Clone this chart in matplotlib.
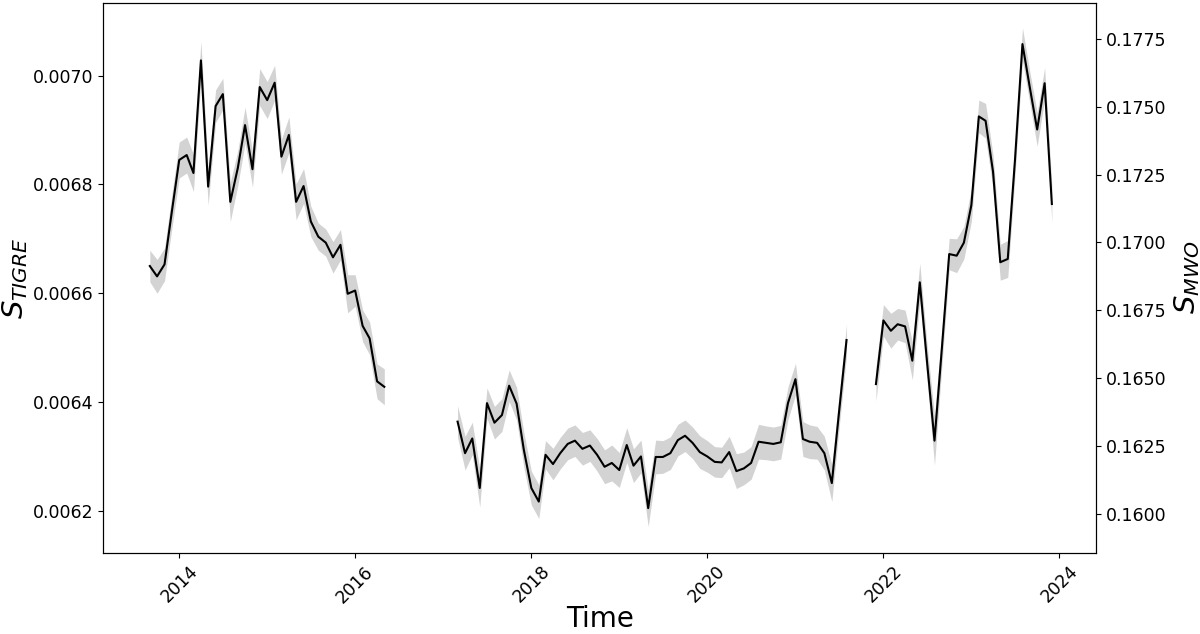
import numpy as np
import pandas as pd
import matplotlib
matplotlib.use("Agg")
import matplotlib.pyplot as plt
import matplotlib.dates as mdates
from matplotlib.ticker import MultipleLocator, FormatStrFormatter

# monthly S-index values (TIGRE scale), three observing seasons blocks
seg1_start = "2013-09-01"
seg1_s = [0.006650, 0.006631, 0.006653, 0.006749, 0.006845, 0.006854, 0.006821,
          0.007028, 0.006796, 0.006944, 0.006966, 0.006768, 0.006830, 0.006909,
          0.006828, 0.006979, 0.006955, 0.006987, 0.006851, 0.006891, 0.006768,
          0.006797, 0.006732, 0.006704, 0.006693, 0.006666, 0.006689, 0.006599,
          0.006605, 0.006540, 0.006517, 0.006438, 0.006428]
seg1_err = [2.9, 3.1, 3.0, 3.1, 3.3, 3.3, 3.4, 3.5, 3.4, 3.0, 2.9, 3.6, 3.2, 3.3,
            3.3, 3.4, 3.4, 3.2, 3.2, 3.3, 3.3, 3.2, 2.8, 2.5, 2.5, 2.9, 2.8, 3.5,
            2.9, 2.9, 3.0, 3.2, 3.3]

seg2_start = "2017-03-01"
seg2_s = [0.006364, 0.006306, 0.006333, 0.006242, 0.006398, 0.006362, 0.006376,
          0.006430, 0.006397, 0.006312, 0.006242, 0.006217, 0.006303, 0.006286,
          0.006306, 0.006323, 0.006329, 0.006314, 0.006320, 0.006303, 0.006281,
          0.006288, 0.006275, 0.006321, 0.006283, 0.006300, 0.006205, 0.006299,
          0.006299, 0.006306, 0.006330, 0.006338, 0.006325, 0.006308, 0.006300,
          0.006290, 0.006289, 0.006308, 0.006273, 0.006278, 0.006288, 0.006327,
          0.006325, 0.006323, 0.006326, 0.006398, 0.006442, 0.006332, 0.006327,
          0.006325, 0.006306, 0.006251, 0.006382, 0.006514]
seg2_err = [2.9, 3.1, 3.0, 3.5, 2.8, 3.0, 3.0, 2.9, 3.0, 3.2, 3.1, 3.1, 2.6, 2.9,
            2.9, 2.9, 2.9, 3.0, 2.9, 3.0, 3.1, 3.3, 3.2, 3.2, 3.1, 3.0, 3.4, 3.1,
            3.0, 3.0, 2.9, 2.9, 2.9, 3.0, 2.9, 2.8, 2.8, 2.9, 3.2, 3.0, 3.0, 3.2,
            3.1, 3.1, 3.1, 3.0, 2.9, 3.2, 3.1, 3.0, 3.1, 3.4, 3.0, 2.9]

seg3_start = "2021-12-01"
seg3_s = [0.006433, 0.006550, 0.006531, 0.006543, 0.006539, 0.006476, 0.006620,
          0.006474, 0.006329, 0.006501, 0.006672, 0.006669, 0.006693, 0.006762,
          0.006925, 0.006917, 0.006823, 0.006657, 0.006663, 0.006845, 0.007058,
          0.006977, 0.006901, 0.006986, 0.006764]
seg3_err = [3.1, 2.9, 3.2, 2.9, 3.0, 3.5, 3.5, 3.3, 4.5, 3.3, 2.9, 3.1, 3.0, 3.0,
            3.0, 3.2, 3.1, 3.3, 3.4, 3.0, 3.0, 2.9, 3.1, 2.9, 3.4]

# S_MWO = 0.0360 + 20.02 * S_TIGRE
mwo_a = 0.0360
mwo_b = 20.02

fig = plt.figure(figsize=(12, 6.34), dpi=100)
ax = fig.add_axes([0.0861, 0.1282, 0.8272, 0.8675])

for start, s, err in [(seg1_start, seg1_s, seg1_err),
                      (seg2_start, seg2_s, seg2_err),
                      (seg3_start, seg3_s, seg3_err)]:
    s = np.array(s)
    e = np.array(err) * 1e-5
    t = pd.date_range(start, periods=len(s), freq="MS")
    ax.fill_between(t, s - e, s + e, color="#d3d3d3", lw=0)
    ax.plot(t, s, color="black", lw=1.5)

ax.set_xlim(pd.Timestamp("2013-02-20"), pd.Timestamp("2024-06-01"))
ax.set_ylim(0.006123, 0.007134)
ax.xaxis.set_major_locator(mdates.YearLocator(2))
ax.xaxis.set_major_formatter(mdates.DateFormatter("%Y"))
ax.yaxis.set_major_locator(MultipleLocator(0.0002))
ax.yaxis.set_major_formatter(FormatStrFormatter("%.4f"))
ax.tick_params(labelsize=12.5)
plt.setp(ax.get_xticklabels(), rotation=45)
ax.set_xlabel("Time", fontsize=20, labelpad=-1)
ax.set_ylabel("$S_{TIGRE}$", fontsize=21, labelpad=2)

ax2 = ax.twinx()
lo, hi = ax.get_ylim()
ax2.set_ylim(mwo_a + mwo_b * lo, mwo_a + mwo_b * hi)
ax2.yaxis.set_major_locator(MultipleLocator(0.0025))
ax2.yaxis.set_major_formatter(FormatStrFormatter("%.4f"))
ax2.tick_params(labelsize=12.5)
ax2.set_ylabel("$S_{MWO}$", fontsize=21)

fig.savefig("out.png", dpi=100)
